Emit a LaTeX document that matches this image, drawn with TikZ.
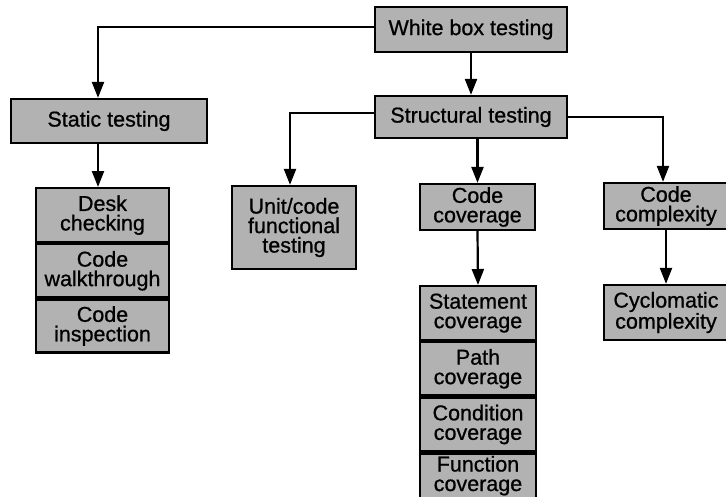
\documentclass[tikz,border=0pt]{standalone}
\usepackage{fontspec}
\setmainfont{Liberation Sans}[FakeBold=0.8]
\newfontfamily\boxfont{Liberation Sans}[FakeBold=0.8]
\usetikzlibrary{arrows.meta}
\begin{document}
\begin{tikzpicture}[x=1pt,y=-1pt,
  boxtext/.style={align=center, inner sep=0pt, font=\boxfont\fontsize{21.5}{19.5}\selectfont},
  box/.style={boxtext, draw=black, line width=2.2pt, fill=black!30},
  arr/.style={line width=2.2pt, -{Triangle[width=12pt,length=16pt]}}]
\useasboundingbox (0,0) rectangle (726,496);
\clip (0,0) rectangle (726,496);
% top levels
\node[box, minimum width=192pt, minimum height=45pt] (wb) at (471,29.5) {White box testing};
\node[box, minimum width=196pt, minimum height=44pt] (static) at (109,121) {Static testing};
\node[box, minimum width=192pt, minimum height=42pt] (struct) at (471,117) {Structural testing};
% static stack
\node[box, anchor=north, minimum width=133pt, minimum height=54pt] (desk) at (102.5,187) {Desk\\checking};
\node[box, anchor=north, minimum width=133pt, minimum height=53pt] (walk) at (desk.south) {Code\\walkthrough};
\node[box, anchor=north, minimum width=133pt, minimum height=53pt] (insp) at (walk.south) {Code\\inspection};
% structural children
\node[box, minimum width=124pt, minimum height=83pt] (unit) at (294,227.5) {Unit/code\\functional\\testing};
\node[box, minimum width=115pt, minimum height=46pt] (cov) at (477.5,207) {Code\\coverage};
\node[box, minimum width=124pt, minimum height=46pt] (cx) at (666,206) {Code\\complexity};
% coverage stack
\node[box, anchor=north, minimum width=116pt, minimum height=54pt] (stmt) at (478,285) {Statement\\coverage};
\node[box, anchor=north, minimum width=116pt, minimum height=53pt] (path) at (stmt.south) {Path\\coverage};
\node[box, anchor=north, minimum width=116pt, minimum height=54pt] (cond) at (path.south) {Condition\\coverage};
\node[box, anchor=north, minimum width=116pt, minimum height=56pt] (func) at (cond.south) {};
\node[boxtext] (functxt) at ([yshift=6pt]func.center) {Function\\coverage};
% cyclomatic
\node[box, minimum width=124pt, minimum height=55pt] (cyc) at (666,312.5) {Cyclomatic\\complexity};
% connectors
\coordinate (sa) at ([xshift=-11pt]static.north);
\coordinate (sb) at ([xshift=-11pt]static.south);
\draw[arr] ([yshift=2.5pt]wb.west) -| (sa);
\draw[arr] (sb) -- (sb |- desk.north);
\draw[arr] (wb.south) -- (struct.north);
\draw[arr] ([yshift=4pt]struct.west) -| ([xshift=-4pt]unit.north);
\draw[arr] (struct.south -| cov.north) -- (cov.north);
\draw[arr] (struct.east) -| ([xshift=-3pt]cx.north);
\draw[arr] (cov.south) -- (stmt.north);
\draw[arr] (cx.south) -- (cyc.north);
\end{tikzpicture}
\end{document}
